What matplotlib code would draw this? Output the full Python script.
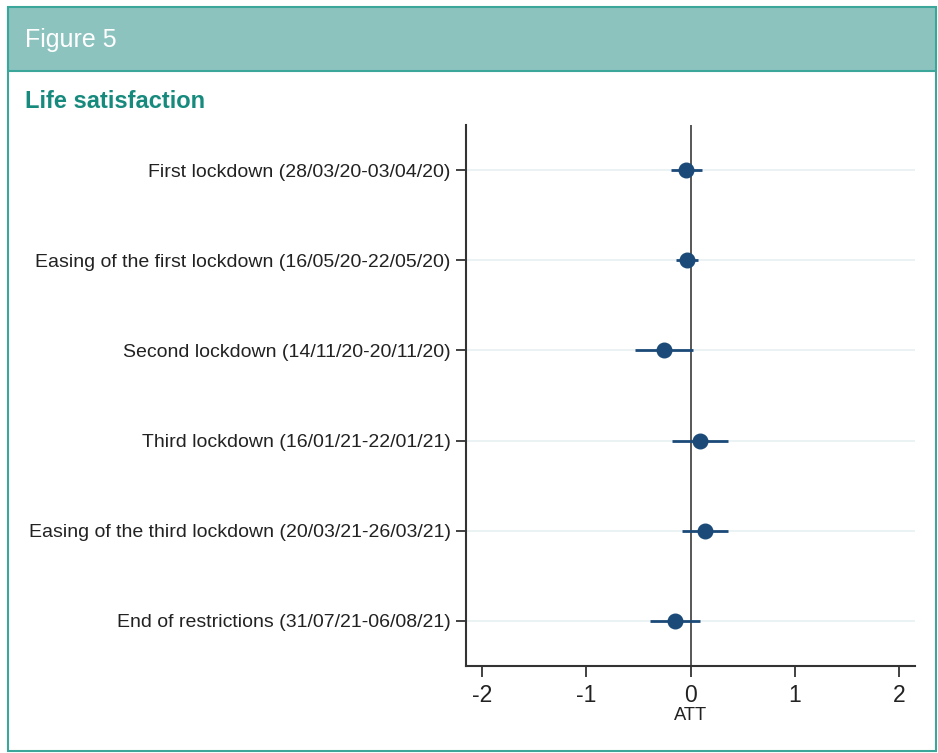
import numpy as np
import matplotlib.pyplot as plt
from matplotlib.patches import Rectangle

plt.rcParams['font.family'] = ['Liberation Sans', 'DejaVu Sans']

# Estimated ATT with 95% confidence intervals for each period
periods = [
    "First lockdown (28/03/20-03/04/20)",
    "Easing of the first lockdown (16/05/20-22/05/20)",
    "Second lockdown (14/11/20-20/11/20)",
    "Third lockdown (16/01/21-22/01/21)",
    "Easing of the third lockdown (20/03/21-26/03/21)",
    "End of restrictions (31/07/21-06/08/21)",
]
att = [-0.04, -0.035, -0.255, 0.09, 0.135, -0.145]
ci_low = [-0.185, -0.14, -0.53, -0.175, -0.085, -0.39]
ci_high = [0.11, 0.07, 0.025, 0.36, 0.355, 0.09]
xticks = [-2, -1, 0, 1, 2]

teal = '#3aa79a'
header = '#8cc3bf'
navy = '#1b4a78'

fig = plt.figure(figsize=(9.38, 7.53), dpi=100)

# frame + header band
fig.patches.append(Rectangle((8/938, 2/753), 928/938, 743/753, transform=fig.transFigure,
                             fill=False, edgecolor=teal, linewidth=1.5))
fig.patches.append(Rectangle((8/938, 1 - 71/753), 928/938, 64/753, transform=fig.transFigure,
                             facecolor=header, edgecolor=teal, linewidth=1.5))
fig.text(25/938, 1 - 40/753, "Figure 5", color='white', fontsize=18, va='center', ha='left')
fig.text(25/938, 1 - 101/753, "Life satisfaction", color='#168a7d', fontsize=17,
         fontweight='bold', va='center', ha='left')

ax = fig.add_axes([466/938, 1 - 666/753, 449/938, 541/753])
y = np.arange(1, len(periods) + 1)
att = np.array(att)
ci_low = np.array(ci_low)
ci_high = np.array(ci_high)

for yy in y:
    ax.axhline(yy, color='#e8f0f2', linewidth=1.2, zorder=0)
ax.axvline(0, color='#4a4a4a', linewidth=1.3, zorder=1)
ax.hlines(y, ci_low, ci_high, color=navy, linewidth=2, zorder=2)
ax.plot(att, y, 'o', color=navy, markersize=10.5, zorder=3)

ax.set_xlim(-2.15, 2.15)
ax.set_ylim(6.5, 0.5)
ax.set_yticks(y)
ax.set_yticklabels(periods, fontsize=14, color='#222222')
ax.set_xticks(xticks)
ax.set_xticklabels([str(t) for t in xticks], fontsize=16.5, color='#222222')
ax.set_xlabel("ATT", fontsize=13.2, color='#222222', labelpad=0)
ax.tick_params(axis='y', direction='out', length=7, width=1.3, color='#333333', pad=4)
ax.tick_params(axis='x', direction='out', length=8, width=1.3, color='#333333', pad=5)
for s in ['top', 'right']:
    ax.spines[s].set_visible(False)
for s in ['left', 'bottom']:
    ax.spines[s].set_color('#333333')
    ax.spines[s].set_linewidth(1.5)

fig.savefig('out.png', dpi=100)
